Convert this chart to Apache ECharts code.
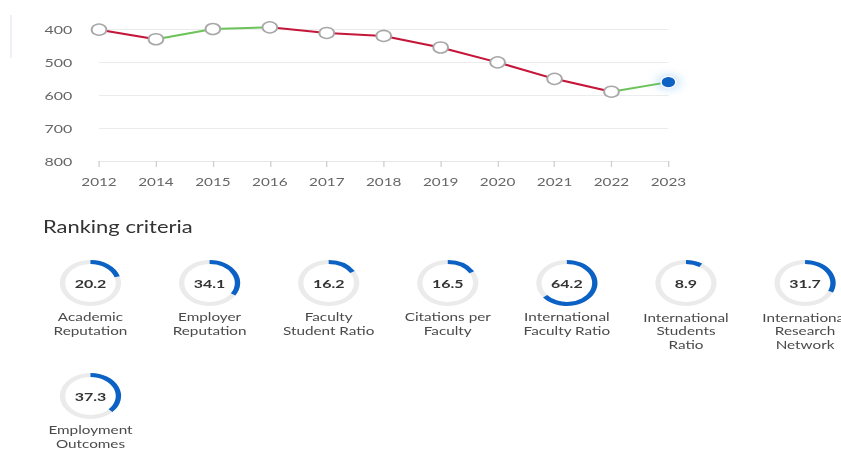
<!DOCTYPE html>
<html>
<head>
<meta charset="utf-8">
<script src="https://cdn.jsdelivr.net/npm/echarts@6/dist/echarts.min.js"></script>
<style>
html,body{margin:0;padding:0;overflow:hidden;background:#fff;width:841px;height:449px}
#c{width:632px;height:449px;transform:scaleX(1.3307);transform-origin:0 0;}
</style>
</head>
<body>
<div id="c"></div>
<script>
// ---- data ----
var years = ['2012','2014','2015','2016','2017','2018','2019','2020','2021','2022','2023'];
var ranks = [402, 431, 400, 395, 412, 421, 456, 501, 551, 590, 561];
var yTicks = [400, 500, 600, 700, 800];
var criteriaNames = ['Academic\nReputation','Employer\nReputation','Faculty\nStudent Ratio','Citations per\nFaculty','International\nFaculty Ratio','International\nStudents\nRatio','International\nResearch\nNetwork','Employment\nOutcomes'];
var criteriaValues = [20.2, 34.1, 16.2, 16.5, 64.2, 8.9, 31.7, 37.3];

// ---- styles ----
var RED = '#c5163a', GREEN = '#6cc35a', BLUE = '#0b62c4';
var FONT = 'Lato, "Open Sans", sans-serif';

// segment colours: worse rank (higher number) red, better green
var pieces = [];
for (var i = 0; i < ranks.length - 1; i++) {
  var col = ranks[i + 1] > ranks[i] ? RED : GREEN;
  var last = pieces[pieces.length - 1];
  if (last && last.color === col) { last.lte = i + 1; }
  else { pieces.push(i === 0 ? {gte: i, lte: i + 1, color: col} : {gt: i, lte: i + 1, color: col}); }
}

var markerData = ranks.map(function (v, i) {
  if (i === ranks.length - 1) {
    return {value: v, symbolSize: 11, itemStyle: {color: BLUE, borderColor: '#fff', borderWidth: 1, shadowBlur: 10, shadowColor: 'rgba(40,130,230,0.45)'}};
  }
  return v;
});

var series = [
  {type: 'line', data: ranks, showSymbol: false, symbol: 'none', lineStyle: {width: 2}, z: 2, silent: true, clip: false},
  {type: 'scatter', data: markerData, symbol: 'circle', symbolSize: 11, z: 3, clip: false,
   itemStyle: {color: '#fff', borderColor: '#a8a8a8', borderWidth: 1.5, opacity: 1}}
];

criteriaValues.forEach(function (v, i) {
  var lines = criteriaNames[i].split('\n').length;
  series.push({
    type: 'gauge',
    center: [68 + (i % 7) * 89.5, 283 + Math.floor(i / 7) * 113],
    radius: 23,
    startAngle: 90, endAngle: -270, min: 0, max: 100,
    pointer: {show: false}, anchor: {show: false},
    progress: {show: true, width: 4, itemStyle: {color: BLUE}},
    axisLine: {lineStyle: {width: 4, color: [[1, '#ebebeb']]}},
    splitLine: {show: false}, axisTick: {show: false}, axisLabel: {show: false},
    title: {offsetCenter: [0, 34 + (lines - 1) * 7], fontSize: 11.5, lineHeight: 13.5, color: '#4a4a4a', fontFamily: FONT},
    detail: {offsetCenter: [0, 0], fontSize: 12, fontWeight: 'bold', color: '#333', fontFamily: FONT,
             formatter: function (x) { return x.toFixed(1); }},
    data: [{value: v, name: criteriaNames[i]}]
  });
});

var chart = echarts.init(document.getElementById('c'), null, {renderer: 'svg'});
chart.setOption({
  animation: false,
  textStyle: {fontFamily: FONT},
  title: {text: 'Ranking criteria', left: 32.3, top: 218, padding: 0, textStyle: {fontSize: 16.5, fontWeight: 'normal', color: '#333', fontFamily: FONT}},
  graphic: [{type: 'line', shape: {x1: 8.3, y1: 15, x2: 8.3, y2: 58}, style: {stroke: '#e4e9f5', lineWidth: 1}}],
  grid: {left: 74.4, right: 129.7, top: 29, height: 132},
  visualMap: {show: false, type: 'piecewise', dimension: 0, seriesIndex: 0, pieces: pieces},
  xAxis: {
    type: 'category', data: years, boundaryGap: false,
    axisLine: {lineStyle: {color: '#e6e6e6'}},
    axisTick: {show: true, length: 6, lineStyle: {color: '#d0d0d0'}},
    axisLabel: {margin: 15, fontSize: 11.5, color: '#666', fontFamily: FONT}
  },
  yAxis: {
    type: 'value', inverse: true, min: yTicks[0], max: yTicks[yTicks.length - 1], interval: 100,
    axisLine: {show: false}, axisTick: {show: false},
    splitLine: {lineStyle: {color: '#ececec'}},
    axisLabel: {margin: 20, fontSize: 12, color: '#666', fontFamily: FONT}
  },
  series: series
});
</script>
</body>
</html>
